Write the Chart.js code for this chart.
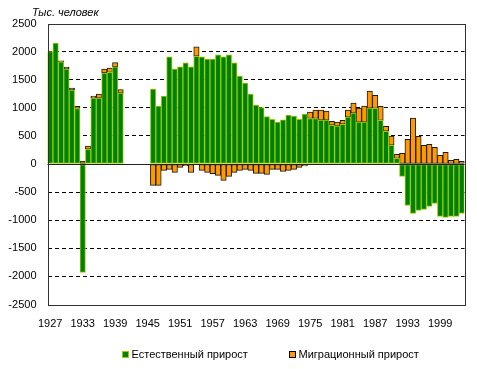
<!DOCTYPE html>
<html>
<head>
<meta charset="utf-8">
<script src="https://cdn.jsdelivr.net/npm/chart.js@4"></script>
<style>
  html, body { margin: 0; padding: 0; background: #fff; }
  #wrap { width: 477px; height: 369px; position: relative; }
</style>
</head>
<body>
<div id="wrap"><canvas id="popChart"></canvas></div>
<script>
const years = [];
for (let y = 1927; y <= 2003; y++) years.push(String(y));

// тыс. человек, 1941-1945 нет данных
const naturalGrowth = [
  2000, 2150, 1820, 1690, 1316, 987, -1930, 262, 1173, 1173, 1620, 1630, 1727, 1262,
  null, null, null, null, null,
  1333, 1030, 1209, 1905, 1691, 1727, 1798, 1727, 1917, 1905, 1869, 1869, 1941, 1905,
  1941, 1798, 1566, 1440, 1244, 1048, 1006, 845, 797, 744,
  786, 869, 851, 797, 887, 810, 810, 780, 780, 690, 673, 708, 833, 905, 744, 744, 994, 990,
  775, 583, 334, 101, -220, -738, -878, -825, -807, -753, -700, -932, -950, -932, -932, -880
];
const migrationGrowth = [
  null, null, 15, 35, 36, 40, 53, 55, 36, 72, 71, 78, 77, 60,
  null, null, null, null, null,
  -381, -381, -113, -95, -149, -60, -30, -149, 167, -113, -149, -173, -202, -292,
  -220, -149, -113, -95, -113, -167, -167, -184, -95, -95,
  -131, -113, -95, -60, -36, 113, 149, 179, 161, 71, 71, 71, 125, 179, 250, 286, 304, 230,
  250, 89, 161, 71, 191, 441, 816, 494, 334, 352, 298, 155, 208, 66, 84, 48
];
const yTicks = { min: -2500, max: 2500, step: 500 };
const labelEvery = 6;

const FONT = "Arial, 'Liberation Sans', sans-serif";

const framePlugin = {
  id: "frame",
  afterDatasetsDraw(chart) {
    const { ctx, chartArea: a, scales } = chart;
    const y0 = Math.round(scales.y.getPixelForValue(0)) + 0.5;
    ctx.save();
    ctx.strokeStyle = "#222";
    ctx.lineWidth = 1;
    ctx.beginPath();
    ctx.moveTo(a.left, y0);
    ctx.lineTo(a.right, y0);
    ctx.stroke();
    ctx.strokeStyle = "#333";
    ctx.strokeRect(Math.round(a.left) + 0.5, Math.round(a.top) + 0.5,
      Math.round(a.right - a.left), Math.round(a.bottom - a.top));
    ctx.restore();
  },
  afterDraw(chart) {
    const ctx = chart.ctx;
    ctx.save();
    ctx.fillStyle = "#000";
    ctx.textBaseline = "middle";
    ctx.font = "italic 11px " + FONT;
    ctx.fillText("Тыс. человек", 32, 13);

    const items = [
      { x: 122.5, text: "Естественный прирост", fill: "#008000", stroke: "#99cc00" },
      { x: 289.5, text: "Миграционный прирост", fill: "#ff9900", stroke: "#000" }
    ];
    ctx.font = "11px " + FONT;
    items.forEach((it) => {
      ctx.fillStyle = it.fill;
      ctx.fillRect(it.x, 351.5, 6, 6);
      ctx.strokeStyle = it.stroke;
      ctx.lineWidth = 1;
      ctx.strokeRect(it.x, 351.5, 6, 6);
      ctx.fillStyle = "#000";
      ctx.fillText(it.text, it.x + 9, 355);
    });
    ctx.restore();
  }
};

new Chart(document.getElementById("popChart"), {
  type: "bar",
  data: {
    labels: years,
    datasets: [
      {
        label: "Естественный прирост",
        data: naturalGrowth,
        backgroundColor: "#008000",
        borderColor: "#99cc00",
        borderWidth: 1,
        borderSkipped: false,
        barPercentage: 1,
        categoryPercentage: 1
      },
      {
        label: "Миграционный прирост",
        data: migrationGrowth,
        backgroundColor: "#ff9900",
        borderColor: "#1a1a1a",
        borderWidth: 1,
        borderSkipped: false,
        barPercentage: 1,
        categoryPercentage: 1
      }
    ]
  },
  options: {
    responsive: true,
    maintainAspectRatio: false,
    animation: false,
    layout: { padding: { top: 23.5, right: 12.5, left: 0, bottom: 0 } },
    plugins: {
      legend: { display: false },
      tooltip: { enabled: false }
    },
    scales: {
      x: {
        stacked: true,
        offset: true,
        grid: { display: false },
        border: { display: false },
        afterFit(scale) { scale.height = 64.5; },
        ticks: {
          autoSkip: false,
          maxRotation: 0,
          padding: 5,
          color: "#000",
          font: { family: FONT, size: 11 },
          callback(value, index) {
            return index % labelEvery === 0 ? this.getLabelForValue(value) : "";
          }
        }
      },
      y: {
        stacked: true,
        min: yTicks.min,
        max: yTicks.max,
        afterFit(scale) { scale.width = 47.5; },
        grid: {
          drawTicks: false,
          color(c) {
            const v = c.tick.value;
            return v === 0 || v === yTicks.min || v === yTicks.max ? "rgba(0,0,0,0)" : "#000";
          }
        },
        border: { display: false, dash: [4, 3] },
        ticks: {
          stepSize: yTicks.step,
          padding: 11,
          color: "#000",
          font: { family: FONT, size: 11 },
          callback(value) { return String(value); }
        }
      }
    }
  },
  plugins: [framePlugin]
});
</script>
</body>
</html>
